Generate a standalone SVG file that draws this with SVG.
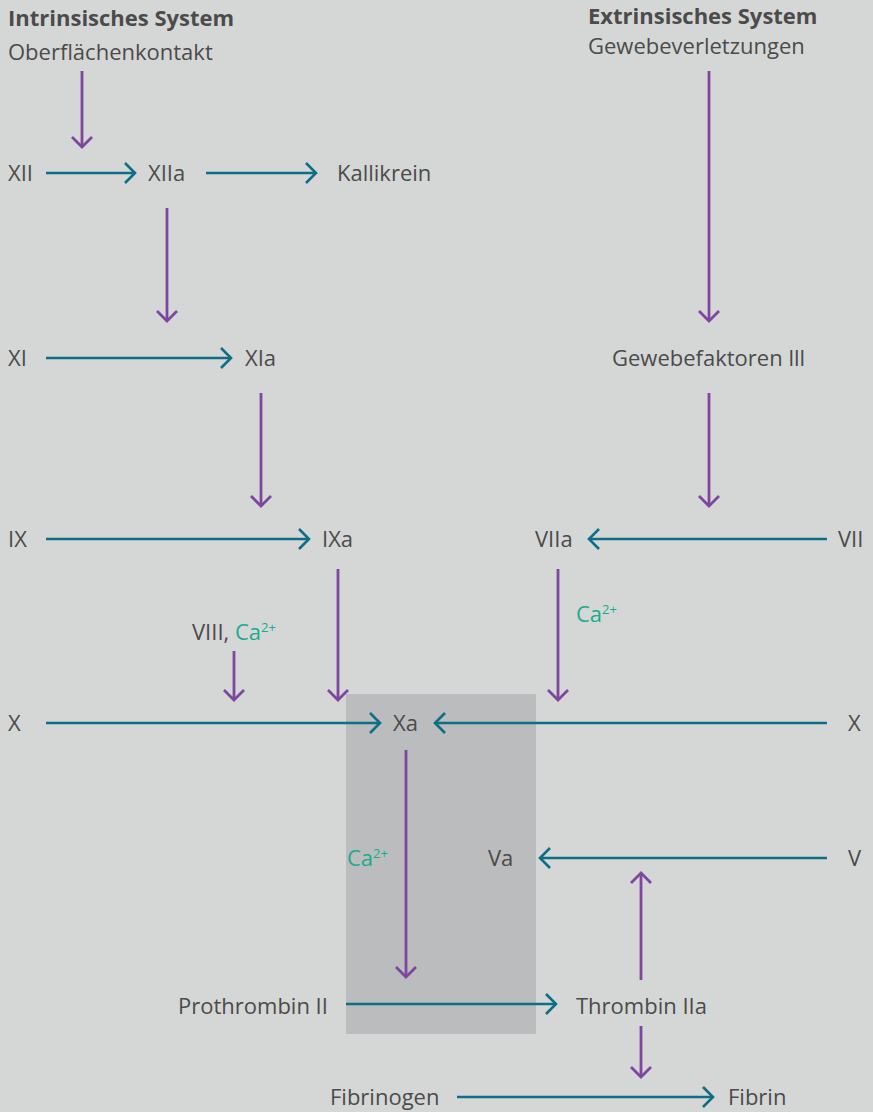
<svg xmlns="http://www.w3.org/2000/svg" width="873" height="1112" viewBox="0 0 873 1112">
<defs>
<style>
text{font-family:"Open Sans","Liberation Sans",sans-serif;font-size:22px;fill:#4b4b4b}
.b{font-weight:bold}
.g{fill:#1aab8e}
.t{stroke:#0e6e85;stroke-width:2.6;fill:none;marker-end:url(#mt)}
.p{stroke:#7d479f;stroke-width:2.8;fill:none;marker-end:url(#mp)}
</style>
<marker id="mt" markerUnits="userSpaceOnUse" viewBox="-14 -12 16 24" refX="0" refY="0" markerWidth="16" markerHeight="24" orient="auto" overflow="visible">
<path d="M-10,-10 L0,0 L-10,10" fill="none" stroke="#0e6e85" stroke-width="2.6"/>
</marker>
<marker id="mp" markerUnits="userSpaceOnUse" viewBox="-14 -12 16 24" refX="0" refY="0" markerWidth="16" markerHeight="24" orient="auto" overflow="visible">
<path d="M-10,-10 L0,0 L-10,10" fill="none" stroke="#7d479f" stroke-width="2.8"/>
</marker>
</defs>
<rect width="873" height="1112" fill="#d5d7d6"/>
<rect id="box" x="346" y="694" width="190" height="340" fill="#bbbcbe"/>
<g id="connectors">
<path class="p" d="M82,71V147"/>
<path class="t" d="M46,173H135"/>
<path class="t" d="M206,173H316"/>
<path class="p" d="M167,208V321"/>
<path class="t" d="M46,358H231"/>
<path class="p" d="M261,393V506"/>
<path class="p" d="M709,71V321"/>
<path class="p" d="M709,393V506"/>
<path class="t" d="M46,539H309"/>
<path class="t" d="M827,539H589"/>
<path class="p" d="M338,569V700"/>
<path class="p" d="M558,569V700"/>
<path class="p" d="M234,651V700"/>
<path class="t" d="M46,723H380"/>
<path class="t" d="M827,723H435"/>
<path class="p" d="M406,750V977"/>
<path class="t" d="M827,858H540"/>
<path class="p" d="M641,980V873"/>
<path class="t" d="M346,1004H556"/>
<path class="p" d="M641,1026V1077"/>
<path class="t" d="M457,1097H713"/>
</g>
<g id="intrinsic"><text class="b" x="8" y="26">Intrinsisches System</text><text x="8" y="60">Oberflächenkontakt</text></g>
<g id="extrinsic"><text class="b" x="588" y="24">Extrinsisches System</text><text x="588" y="54">Gewebeverletzungen</text></g>
<g id="XII"><text x="8" y="181">XII</text></g>
<g id="XIIa"><text x="148" y="181">XIIa</text></g>
<g id="Kallikrein"><text x="337" y="181">Kallikrein</text></g>
<g id="XI"><text x="8" y="366">XI</text></g>
<g id="XIa"><text x="245" y="366">XIa</text></g>
<g id="Gewebefaktoren"><text x="612" y="366">Gewebefaktoren lll</text></g>
<g id="IX"><text x="8" y="547">IX</text></g>
<g id="IXa"><text x="322" y="547">IXa</text></g>
<g id="VIIa"><text x="535" y="547">VIIa</text></g>
<g id="VII"><text x="838" y="547">VII</text></g>
<g id="Ca1"><text class="g" x="576" y="622">Ca<tspan font-size="13" dy="-8">2+</tspan></text></g>
<g id="VIII"><text x="192" y="640">VIII, <tspan class="g">Ca</tspan><tspan class="g" font-size="13" dy="-8">2+</tspan></text></g>
<g id="X1"><text x="8" y="731">X</text></g>
<g id="Xa"><text x="393" y="731">Xa</text></g>
<g id="X2"><text x="848" y="731">X</text></g>
<g id="Ca2"><text class="g" x="347" y="866">Ca<tspan font-size="13" dy="-8">2+</tspan></text></g>
<g id="Va"><text x="488" y="866">Va</text></g>
<g id="V"><text x="848" y="866">V</text></g>
<g id="Prothrombin"><text x="178" y="1014">Prothrombin II</text></g>
<g id="Thrombin"><text x="576" y="1014">Thrombin IIa</text></g>
<g id="Fibrinogen"><text x="330" y="1105">Fibrinogen</text></g>
<g id="Fibrin"><text x="728" y="1105">Fibrin</text></g>
</svg>
